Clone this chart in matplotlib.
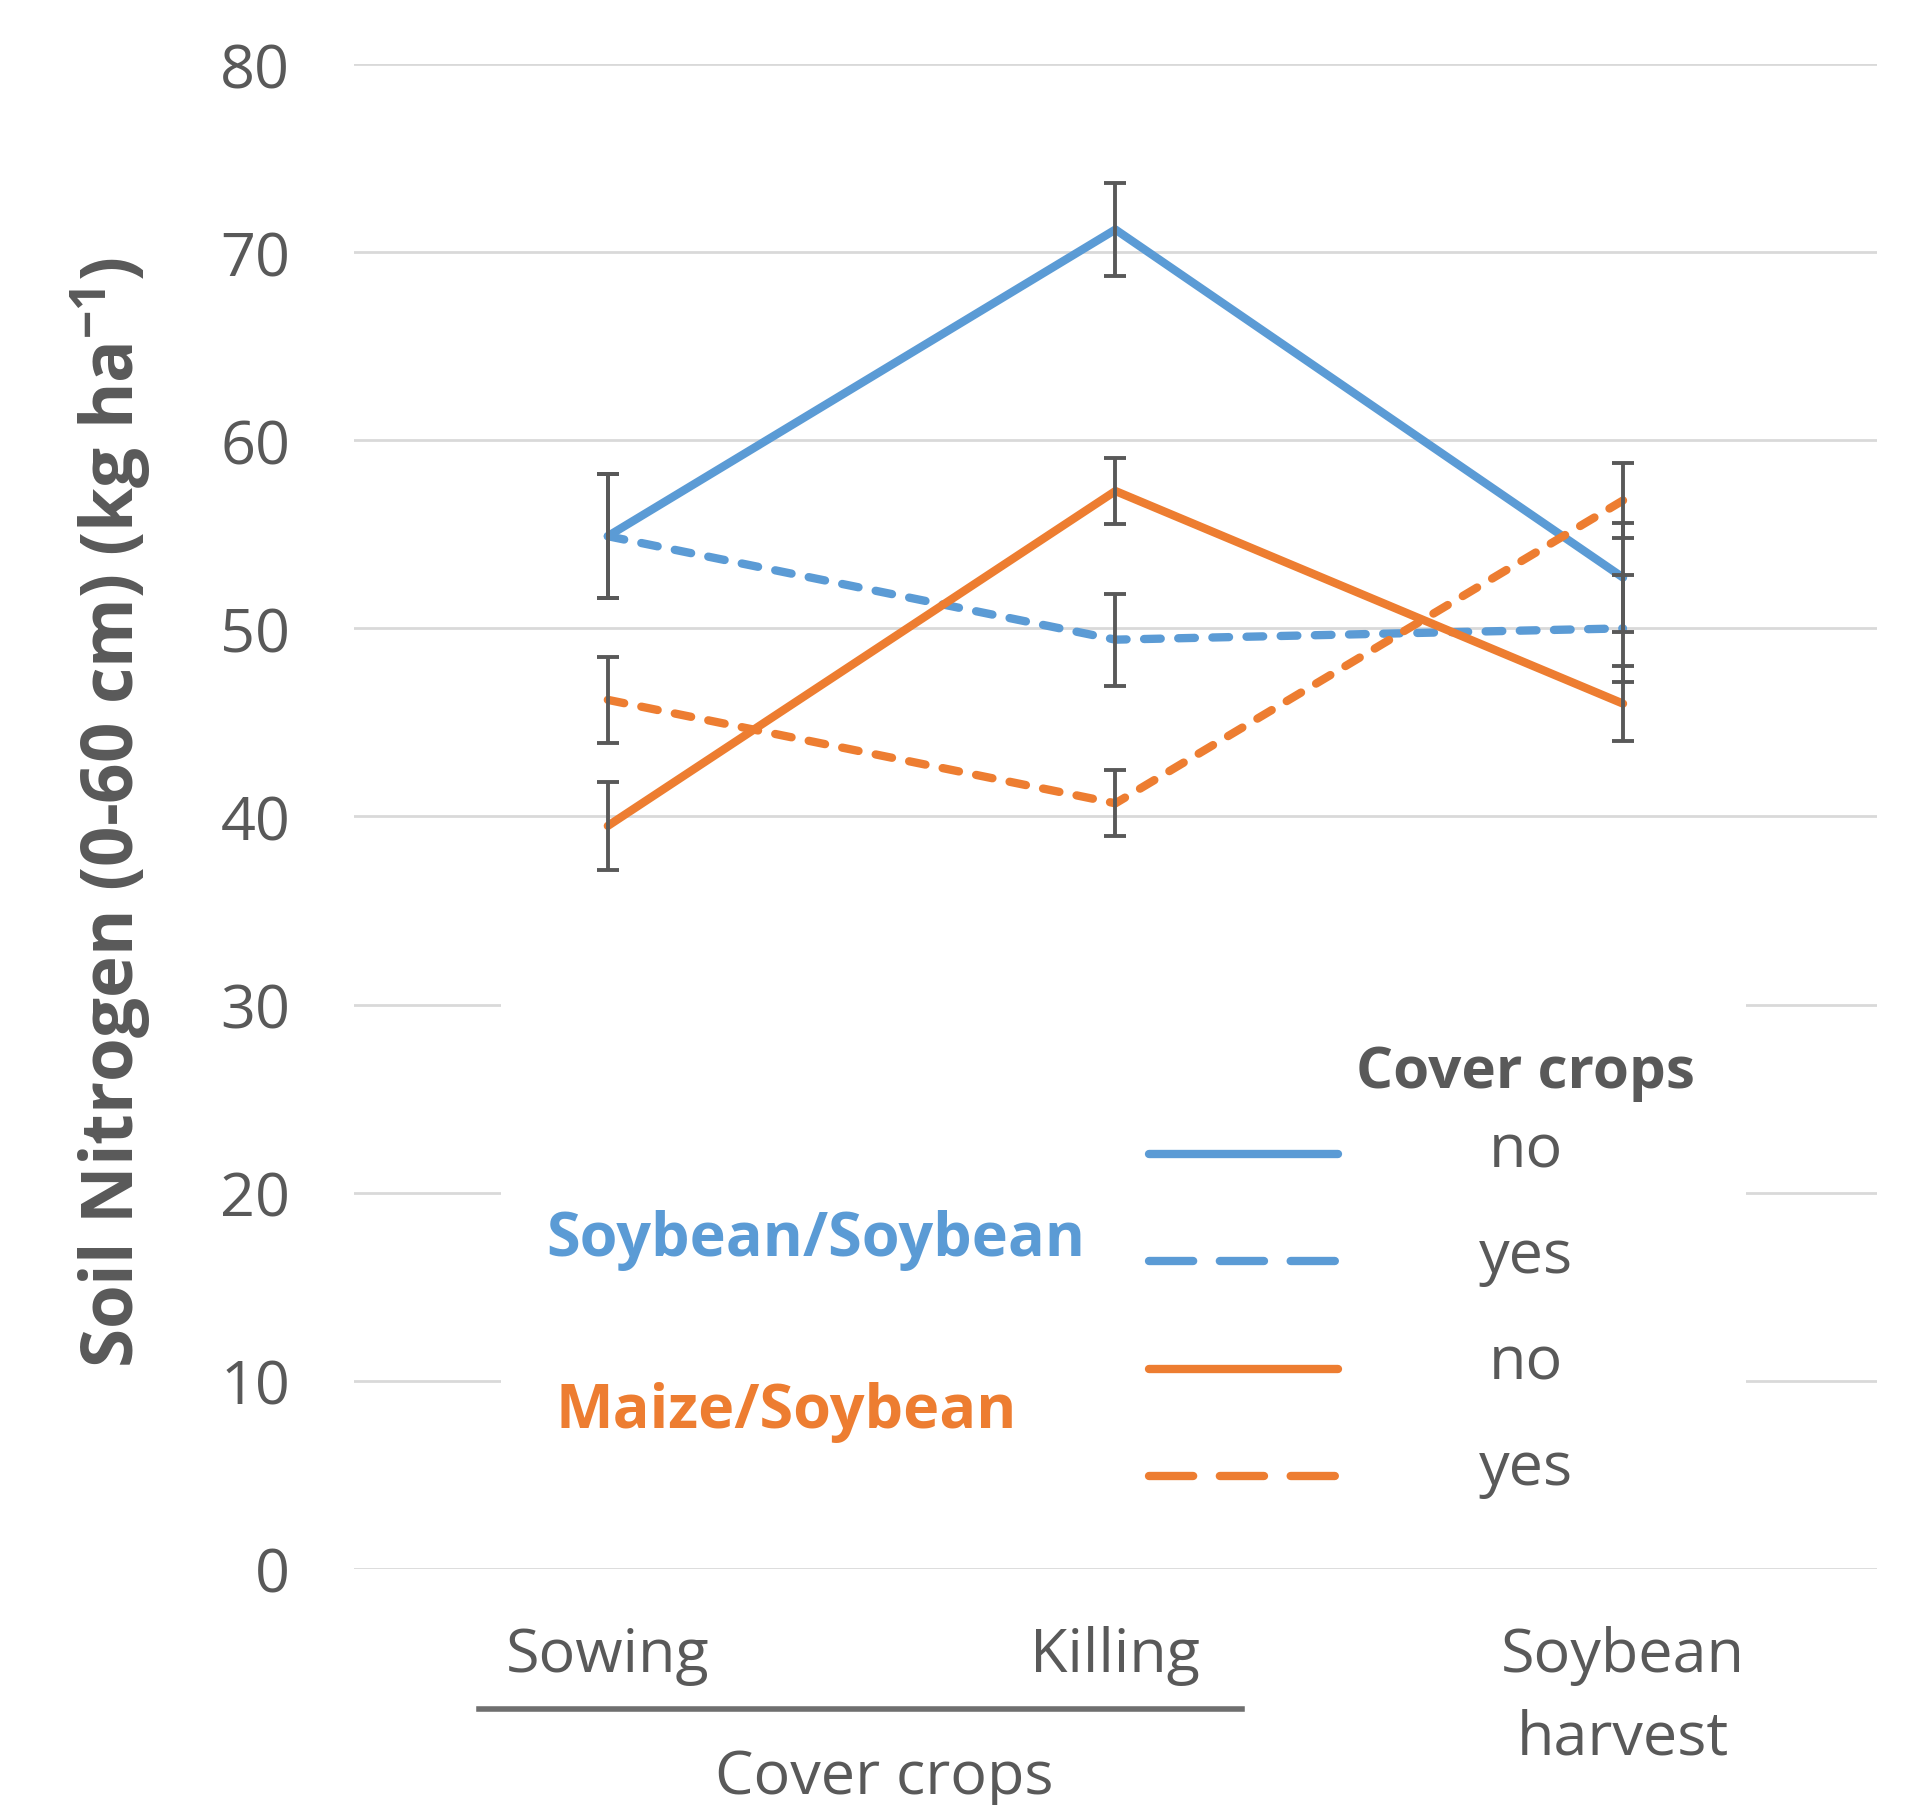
import matplotlib
matplotlib.use("Agg")
import matplotlib.pyplot as plt
from matplotlib.patches import Rectangle
from matplotlib.lines import Line2D

plt.rcParams['font.family'] = ['Open Sans', 'DejaVu Sans']

# data
stages = ['Sowing', 'Killing', 'Soybean\nharvest']
ss_no = [54.9, 71.2, 52.7]
ss_no_err = [3.3, 2.45, 2.9]
ss_yes = [54.9, 49.4, 50.0]
ss_yes_err = [3.3, 2.45, 2.85]
ms_no = [39.5, 57.3, 46.0]
ms_no_err = [2.35, 1.75, 2.0]
ms_yes = [46.2, 40.7, 56.8]
ms_yes_err = [2.3, 1.75, 2.0]
yticks = [0, 10, 20, 30, 40, 50, 60, 70, 80]

blue = '#5B9BD5'
orange = '#ED7D31'
gray = '#595959'
grid_c = '#D9D9D9'

fig = plt.figure(figsize=(19.21, 18.06), dpi=100)
ax = fig.add_axes([0.1843, 0.1307, 0.7927, 0.8333])

x = list(range(len(stages)))
series = [
    (ss_no, ss_no_err, blue, '-'),
    (ss_yes, ss_yes_err, blue, '--'),
    (ms_no, ms_no_err, orange, '-'),
    (ms_yes, ms_yes_err, orange, '--'),
]
for vals, err, col, ls in series:
    line, = ax.plot(x, vals, color=col, lw=6, solid_capstyle='round',
                    dash_capstyle='round', zorder=3)
    if ls == '--':
        line.set_dashes((2.0, 2.1))
    ax.errorbar(x, vals, yerr=err, fmt='none', ecolor=gray, elinewidth=2.8,
                capsize=8, capthick=2.8, zorder=4)

ax.set_xlim(-0.5, 2.5)
ax.set_ylim(0, 80)
ax.set_yticks(yticks)
ax.yaxis.grid(True, color=grid_c, lw=2, zorder=0)
ax.set_axisbelow(True)
for s in ax.spines.values():
    s.set_visible(False)
ax.tick_params(axis='y', length=0, pad=46, labelsize=44, labelcolor=gray)
ax.tick_params(axis='x', length=0, pad=40, labelsize=44, labelcolor=gray)
ax.set_xticks(x)
ax.set_xticklabels(stages, linespacing=1.5)

ax.set_ylabel('Soil Nitrogen (0-60 cm) (kg ha$^{\\mathregular{-1}}$)',
              fontsize=51, fontweight='bold', color=gray, va='center')
ax.yaxis.set_label_coords(-0.160, 0.503)

# white box behind the legend hides the grid
ax.add_patch(Rectangle((0.0965, 3), 0.8175, 30, transform=ax.get_yaxis_transform(),
                       facecolor='white', edgecolor='none', zorder=1))

# legend
ax.text(0.7695, 25.6, 'Cover crops', transform=ax.get_yaxis_transform(),
        ha='center', va='baseline', fontsize=42, fontweight='bold', color=gray, zorder=5)
leg_rows = [(22.05, 21.4, blue, '-', 'no'), (16.36, 15.8, blue, '--', 'yes'),
            (10.63, 10.1, orange, '-', 'no'), (4.94, 4.5, orange, '--', 'yes')]
for ly, ty, col, ls, lab in leg_rows:
    ln = Line2D([0.522, 0.646], [ly, ly], transform=ax.get_yaxis_transform(),
                color=col, lw=6, solid_capstyle='round', dash_capstyle='round', zorder=5)
    if ls == '--':
        ln.set_dashes((5.3, 3.2))
    ax.add_line(ln)
    ax.text(0.7695, ty, lab, transform=ax.get_yaxis_transform(), ha='center',
            va='baseline', fontsize=44, color=gray, zorder=5)

ax.text(0.3033, 16.7, 'Soybean/Soybean', transform=ax.get_yaxis_transform(),
        ha='center', va='baseline', fontsize=44, fontweight='bold', color=blue, zorder=5)
ax.text(0.2837, 7.54, 'Maize/Soybean', transform=ax.get_yaxis_transform(),
        ha='center', va='baseline', fontsize=44, fontweight='bold', color=orange, zorder=5)

# group bracket under the first two stages
ax.add_line(Line2D([0.082, 0.583], [-0.093, -0.093], transform=ax.transAxes,
                   color='#6F6F6F', lw=4, clip_on=False))
ax.text(0.348, -0.138, 'Cover crops', transform=ax.transAxes, ha='center',
        va='center', fontsize=44, color=gray, clip_on=False)

fig.savefig('out.png', dpi=100)
